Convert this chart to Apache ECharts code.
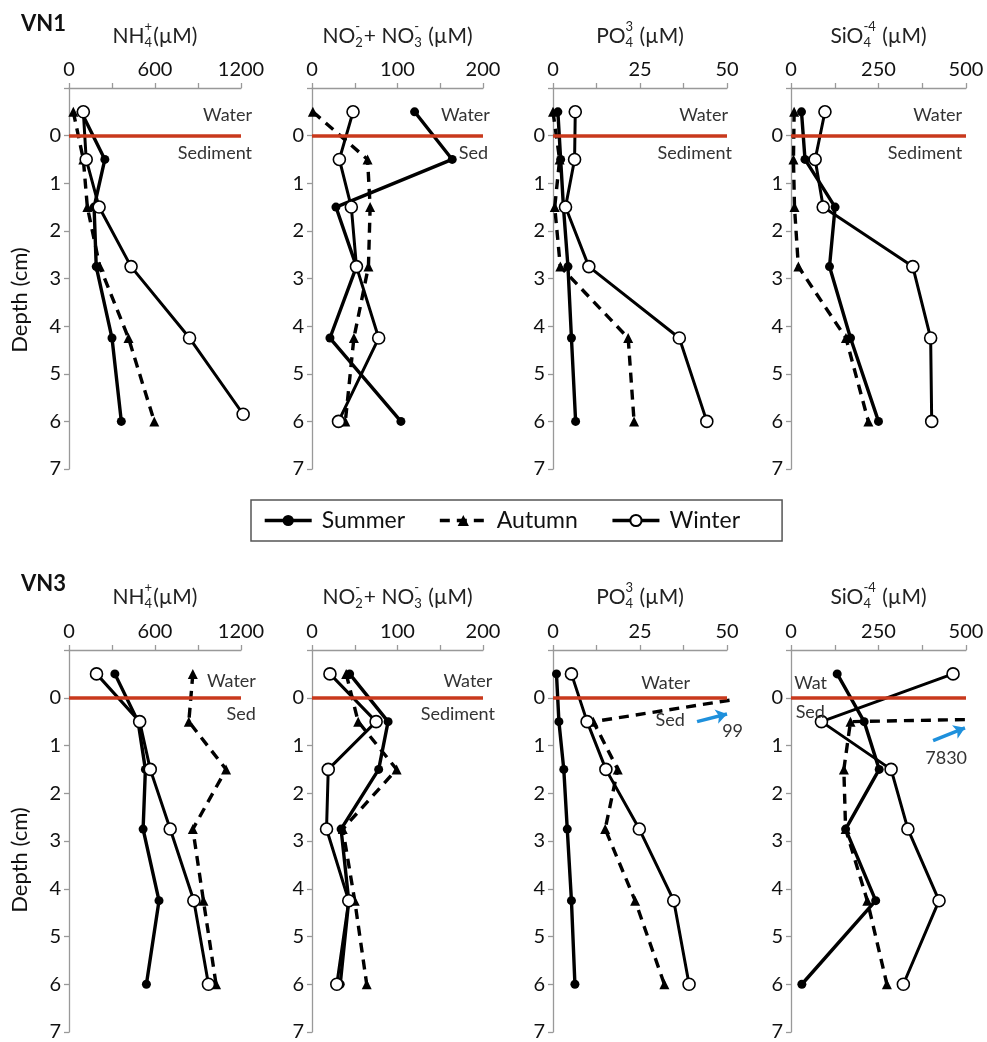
<!DOCTYPE html>
<html>
<head>
<meta charset="utf-8">
<script src="https://cdn.jsdelivr.net/npm/echarts@6/dist/echarts.min.js"></script>
<style>
html, body { margin: 0; padding: 0; background: #fff; }
#chart { width: 987px; height: 1042px; }
</style>
</head>
<body>
<div id="chart"></div>
<script>
// depth of each sample (cm), negative = overlying water
var depths = [-0.5, 0.5, 1.5, 2.75, 4.25, 6];
var depthsNhWinterVN1 = [-0.5, 0.5, 1.5, 2.75, 4.25, 5.85];
var depthTicks = [0, 1, 2, 3, 4, 5, 6, 7];

var nhTicks = [0, 600, 1200];
var noTicks = [0, 100, 200];
var poTicks = [0, 25, 50];
var siTicks = [0, 250, 500];

// VN1
var vn1NhSummer = [85, 250, 175, 190, 300, 365];
var vn1NhAutumn = [30, 100, 128, 215, 415, 595];
var vn1NhWinter = [100, 120, 210, 433, 841, 1215];
var vn1NoSummer = [120, 164, 28, 52, 21, 104];
var vn1NoAutumn = [1, 65, 68, 66, 49, 39];
var vn1NoWinter = [48, 32, 46, 52, 78, 31];
var vn1PoSummer = [1.4, 2.2, 3.0, 4.3, 5.3, 6.5];
var vn1PoAutumn = [0, 1.9, 0.5, 2.1, 21.6, 23.3];
var vn1PoWinter = [6.4, 6.2, 3.6, 10.3, 36.3, 44.2];
var vn1SiSummer = [30, 40, 126, 110, 170, 250];
var vn1SiAutumn = [9, 7, 10, 21, 157, 221];
var vn1SiWinter = [97, 69, 92, 348, 399, 402];

// VN3
var vn3NhSummer = [320, 482, 533, 517, 628, 540];
var vn3NhAutumn = [864, 836, 1096, 864, 938, 1026];
var vn3NhWinter = [192, 493, 567, 706, 871, 973];
var vn3NoSummer = [44, 89, 78, 34, 43, 33];
var vn3NoAutumn = [40, 54, 99, 36, 50, 64];
var vn3NoWinter = [21, 75, 19, 17, 43, 29];
var vn3PoSummer = [1.0, 1.7, 3.1, 4.1, 5.3, 6.3];
var vn3PoAutumn = [99, 11.6, 18.6, 15, 23.6, 32];
var vn3PoWinter = [5.3, 9.8, 15.2, 24.8, 34.7, 39.1];
var vn3SiSummer = [132, 209, 252, 156, 242, 31];
var vn3SiAutumn = [7830, 170, 151, 156, 218, 274];
var vn3SiWinter = [463, 87, 286, 334, 423, 321];

var FONT = 'Lato, "Open Sans", sans-serif';
var colLeft = [69, 312, 553, 791];
var colWidth = [172, 171, 174, 175];
var rowTop = [88, 650];
var rowHeight = [381, 382];

var axisSpec = [
  {max: 1200, interval: 300, ticks: nhTicks, title: ['NH', {sup: '+', sub: '4'}, '(\u00b5M)']},
  {max: 200, interval: 50, ticks: noTicks, title: ['NO', {sup: '-', sub: '2'}, '+ NO', {sup: '-', sub: '3'}, ' (\u00b5M)']},
  {max: 50, interval: 12.5, ticks: poTicks, title: ['PO', {sup: '3', sub: '4'}, ' (\u00b5M)']},
  {max: 500, interval: 125, ticks: siTicks, title: ['SiO', {sup: '-4', sub: '4'}, ' (\u00b5M)']}
];

// annotation text: [text, right edge (x units), depth]
var panels = [
  {row: 0, col: 0, s: vn1NhSummer, a: vn1NhAutumn, w: vn1NhWinter, wDepth: depthsNhWinterVN1,
    notes: [['Water', 1277, -0.42], ['Sediment', 1277, 0.37]]},
  {row: 0, col: 1, s: vn1NoSummer, a: vn1NoAutumn, w: vn1NoWinter,
    notes: [['Water', 208, -0.42], ['Sed', 206, 0.37]]},
  {row: 0, col: 2, s: vn1PoSummer, a: vn1PoAutumn, w: vn1PoWinter,
    notes: [['Water', 50.3, -0.42], ['Sediment', 51.4, 0.37]]},
  {row: 0, col: 3, s: vn1SiSummer, a: vn1SiAutumn, w: vn1SiWinter,
    notes: [['Water', 489, -0.42], ['Sediment', 489, 0.37]]},
  {row: 1, col: 0, s: vn3NhSummer, a: vn3NhAutumn, w: vn3NhWinter,
    notes: [['Water', 1304, -0.34], ['Sed', 1304, 0.34]]},
  {row: 1, col: 1, s: vn3NoSummer, a: vn3NoAutumn, w: vn3NoWinter,
    notes: [['Water', 211, -0.34], ['Sediment', 214, 0.34]]},
  {row: 1, col: 2, s: vn3PoSummer, a: vn3PoAutumn, w: vn3PoWinter,
    notes: [['Water', 39.4, -0.31], ['Sed', 37.9, 0.46], ['99', 54.6, 0.7]],
    arrow: [[41.4, 0.5], [50, 0.34]]},
  {row: 1, col: 3, s: vn3SiSummer, a: vn3SiAutumn, w: vn3SiWinter,
    notes: [['Wat', 103, -0.31], ['Sed', 97, 0.3], ['7830', 503, 1.26]],
    arrow: [[406, 0.9], [497, 0.63]]}
];

function pairs(vals, ds) {
  return vals.map(function (v, i) { return [v, ds[i]]; });
}

var ctx = document.createElement('canvas').getContext('2d');
function textW(t, size) {
  ctx.font = size + 'px ' + FONT;
  return ctx.measureText(t).width;
}

function titleEls(parts, cx, cy) {
  var big = 21, small = 13;
  var total = 0;
  parts.forEach(function (p) {
    total += typeof p === 'string' ? textW(p, big) : Math.max(textW(p.sup, small), textW(p.sub, small)) + 1;
  });
  var x = cx - total / 2;
  var els = [];
  parts.forEach(function (p) {
    if (typeof p === 'string') {
      els.push({type: 'text', x: x, y: cy, style: {text: p, font: big + 'px ' + FONT, fill: '#222', textVerticalAlign: 'middle'}});
      x += textW(p, big);
    } else {
      els.push({type: 'text', x: x, y: cy - 9, style: {text: p.sup, font: small + 'px ' + FONT, fill: '#222', textVerticalAlign: 'middle'}});
      els.push({type: 'text', x: x, y: cy + 7, style: {text: p.sub, font: small + 'px ' + FONT, fill: '#222', textVerticalAlign: 'middle'}});
      x += Math.max(textW(p.sup, small), textW(p.sub, small)) + 1;
    }
  });
  return els;
}

var grids = [], xAxes = [], yAxes = [], series = [], graphics = [];

panels.forEach(function (p, i) {
  var spec = axisSpec[p.col];
  var gw = colWidth[p.col];
  grids.push({left: colLeft[p.col], top: rowTop[p.row], width: gw, height: rowHeight[p.row]});
  xAxes.push({
    type: 'value', gridIndex: i, position: 'top', min: 0, max: spec.max, interval: spec.interval,
    splitLine: {show: false},
    axisLine: {onZero: false, lineStyle: {color: '#999', width: 1.3}},
    axisTick: {show: true, length: 5, lineStyle: {color: '#999', width: 1.3}},
    axisLabel: {customValues: spec.ticks, fontSize: 20, fontFamily: FONT, color: '#111', margin: 8,
      formatter: function (v) { return String(v); }}
  });
  yAxes.push({
    type: 'value', gridIndex: i, inverse: true, min: -1, max: 7, interval: 1,
    splitLine: {show: false},
    axisLine: {onZero: false, lineStyle: {color: '#999', width: 1.3}},
    axisTick: {show: true, length: 5, lineStyle: {color: '#999', width: 1.3}},
    axisLabel: {customValues: depthTicks, fontSize: 20, fontFamily: FONT, color: '#111', margin: 8}
  });

  var markLineData = [[{coord: [0, 0]}, {coord: [spec.max, 0]}]];
  if (p.arrow) {
    markLineData.push([
      {coord: p.arrow[0], symbol: 'none', lineStyle: {color: '#1E90DC', width: 3.5, type: 'solid'}},
      {coord: p.arrow[1], symbol: 'arrow', symbolSize: 11}
    ]);
  }

  // text anchored at its right edge; past the axis end it is pushed by a pixel offset
  var notes = p.notes.map(function (n) {
    var x = Math.min(n[1], spec.max);
    var dx = (n[1] - x) / spec.max * gw;
    return {name: n[0], coord: [x, n[2]], label: {offset: [dx, 0]}};
  });

  series.push({
    name: 'Summer', type: 'line', xAxisIndex: i, yAxisIndex: i, clip: false,
    data: pairs(p.s, depths),
    symbol: 'circle', symbolSize: 9,
    itemStyle: {color: '#000'},
    lineStyle: {color: '#000', width: 3.4},
    markLine: {
      silent: true, symbol: ['none', 'none'], label: {show: false},
      lineStyle: {color: '#C9391C', width: 3.5, type: 'solid'},
      data: markLineData
    },
    markPoint: {
      silent: true, symbol: 'circle', symbolSize: 0,
      label: {show: true, position: 'left', distance: 0, formatter: '{b}', fontSize: 18, fontFamily: FONT, color: '#333'},
      data: notes
    },
    z: 3
  });
  series.push({
    name: 'Autumn', type: 'line', xAxisIndex: i, yAxisIndex: i,
    data: pairs(p.a, depths),
    symbol: 'triangle', symbolSize: 10,
    itemStyle: {color: '#000'},
    lineStyle: {color: '#000', width: 3.4, type: [10, 7]},
    z: 3
  });
  series.push({
    name: 'Winter', type: 'line', xAxisIndex: i, yAxisIndex: i, clip: false,
    data: pairs(p.w, p.wDepth || depths),
    symbol: 'circle', symbolSize: 12,
    itemStyle: {color: '#fff', borderColor: '#000', borderWidth: 1.6},
    lineStyle: {color: '#000', width: 3},
    z: 4
  });

  var cx = colLeft[p.col] + gw / 2;
  var cy = p.row === 0 ? 36 : 597;
  graphics = graphics.concat(titleEls(spec.title, cx, cy));
});

graphics.push({type: 'text', x: 21, y: 24, style: {text: 'VN1', font: 'bold 22px ' + FONT, fill: '#111', textVerticalAlign: 'middle'}});
graphics.push({type: 'text', x: 21, y: 584, style: {text: 'VN3', font: 'bold 22px ' + FONT, fill: '#111', textVerticalAlign: 'middle'}});
[300, 860].forEach(function (yc) {
  graphics.push({type: 'text', x: 20, y: yc, rotation: Math.PI / 2,
    style: {text: 'Depth (cm)', font: '22px ' + FONT, fill: '#111', textAlign: 'center', textVerticalAlign: 'middle'}});
});

var chart = echarts.init(document.getElementById('chart'));
chart.setOption({
  animation: false,
  backgroundColor: '#fff',
  grid: grids,
  xAxis: xAxes,
  yAxis: yAxes,
  legend: {
    data: ['Summer', 'Autumn', 'Winter'],
    left: 251, top: 500,
    itemWidth: 47, itemHeight: 14, itemGap: 33,
    padding: [9, 42, 9, 12],
    borderColor: '#555', borderWidth: 1.5,
    lineStyle: {width: 3.4},
    textStyle: {fontSize: 23, fontFamily: FONT, color: '#111', padding: [0, 0, 0, 5]}
  },
  graphic: graphics,
  series: series
});
</script>
</body>
</html>
